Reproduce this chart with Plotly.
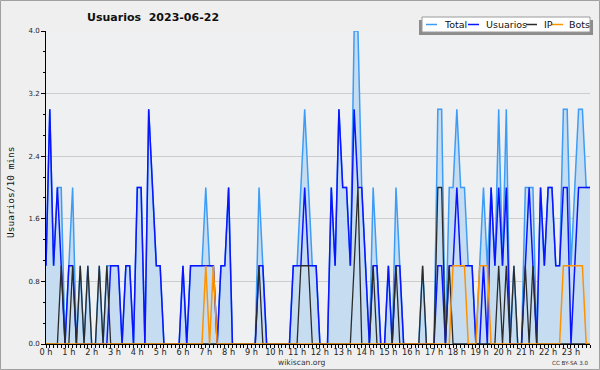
import plotly.graph_objects as go

# ---- data (10-minute slots, 144 per day) ----
hours = list(range(24))
hour_labels = [f"{h} h" for h in hours]
series_names = ["Total", "Usuarios", "IP", "Bots"]

total = [1,3,1,2,2,0,1,2,0,1, 0,1,0,0,1,0,1,1,1,1, 0,1,1,0,2,2,0,3,2,1,
         1,0,0,0,0,0,1,0,1,1, 1,1,2,1,1,0,1,1,2,0, 0,0,0,0,0,0,2,1,0,0,
         0,0,0,0,0,1,1,2,3,2, 1,1,0,0,0,2,1,3,2,2, 1,4,4,2,1,0,2,1,0,0,
         1,0,2,1,0,0,0,0,0,1, 0,0,0,3,3,0,2,2,3,2, 2,1,1,0,1,2,1,2,1,3,
         1,3,0,1,0,0,2,2,2,0, 2,1,2,2,1,1,3,3,1,2, 3,3,2,2]
usuarios = [1,3,1,2,1,0,1,1,0,0, 0,0,0,0,0,0,0,1,1,1, 0,1,1,0,2,2,0,3,2,1,
            1,0,0,0,0,0,1,0,1,1, 1,1,1,1,1,0,1,1,2,0, 0,0,0,0,0,0,1,1,0,0,
            0,0,0,0,0,1,1,1,2,1, 1,1,0,0,0,2,1,3,2,2, 1,3,2,2,1,0,1,1,0,0,
            1,0,1,1,0,0,0,0,0,0, 0,0,0,1,1,0,1,1,2,1, 1,1,1,0,0,1,0,2,1,2,
            1,2,0,0,0,0,1,2,1,0, 2,1,2,2,1,1,2,2,0,1, 2,2,2,2]
ip = [0,0,0,0,1,0,0,1,0,1, 0,1,0,0,1,0,1,0,0,0, 0,0,0,0,0,0,0,0,0,0,
      0,0,0,0,0,0,0,0,0,0, 0,0,0,0,0,0,0,0,0,0, 0,0,0,0,0,0,1,0,0,0,
      0,0,0,0,0,0,0,1,1,1, 0,0,0,0,0,0,0,0,0,0, 0,1,2,0,0,0,1,0,0,0,
      0,0,1,0,0,0,0,0,0,1, 0,0,0,2,2,0,1,0,0,0, 0,0,0,0,0,0,0,0,0,1,
      0,1,0,1,0,0,1,0,1,0, 0,0,0,0,0,0,0,0,0,0, 0,0,0,0]
bots = [0,0,0,0,0,0,0,0,0,0, 0,0,0,0,0,0,0,0,0,0, 0,0,0,0,0,0,0,0,0,0,
        0,0,0,0,0,0,0,0,0,0, 0,0,1,0,1,0,0,0,0,0, 0,0,0,0,0,0,0,0,0,0,
        0,0,0,0,0,0,0,0,0,0, 0,0,0,0,0,0,0,0,0,0, 0,0,0,0,0,0,0,0,0,0,
        0,0,0,0,0,0,0,0,0,0, 0,0,0,0,0,0,0,1,1,1, 1,0,0,0,1,1,1,0,0,0,
        0,0,0,0,0,0,0,0,0,0, 0,0,0,0,0,0,1,1,1,1, 1,1,0,0]
slots = list(range(len(total)))
y_ticks = [0.0, 0.8, 1.6, 2.4, 3.2, 4.0]

colors = ["#3d9cf5", "#0a14ff", "#2b2b2b", "#ff9200"]
FONT = "DejaVu Sans"

W, H = 600, 370
L, R, T, B = 46, 10, 31, 26
PW, PH = W - L - R, H - T - B


def px(x):
    return (x - L) / PW


def py(y):
    return (H - B - y) / PH


fig = go.Figure()
fig.add_trace(go.Scatter(x=slots, y=total, name=series_names[0], mode="lines",
                         line=dict(color=colors[0], width=1.5),
                         fill="tozeroy", fillcolor="#c6ddf1", showlegend=False))
fig.add_trace(go.Scatter(x=slots, y=usuarios, name=series_names[1], mode="lines",
                         line=dict(color=colors[1], width=1.5), showlegend=False))
fig.add_trace(go.Scatter(x=slots, y=ip, name=series_names[2], mode="lines",
                         line=dict(color=colors[2], width=1.3), showlegend=False))
fig.add_trace(go.Scatter(x=slots, y=bots, name=series_names[3], mode="lines",
                         line=dict(color=colors[3], width=1.5), showlegend=False))

shapes = []
annotations = []

# outer border
shapes.append(dict(type="rect", xref="paper", yref="paper",
                   x0=px(0.5), x1=px(W - 0.5), y0=py(H - 0.5), y1=py(0.5),
                   line=dict(color="#a0a0a0", width=1), fillcolor="rgba(0,0,0,0)",
                   layer="below"))

# custom legend: shadow, box, samples, labels
shapes.append(dict(type="rect", xref="paper", yref="paper",
                   x0=px(419), x1=px(593), y0=py(35), y1=py(20),
                   line=dict(width=0), fillcolor="#8c8c8c"))
shapes.append(dict(type="rect", xref="paper", yref="paper",
                   x0=px(422), x1=px(590), y0=py(32), y1=py(17),
                   line=dict(color="#9a9a9a", width=1), fillcolor="white"))
leg_line_x = [426, 468, 526, 552]
leg_text_x = [442, 484, 542, 567]
for name, c, lx, tx in zip(series_names, colors, leg_line_x, leg_text_x):
    shapes.append(dict(type="line", xref="paper", yref="paper",
                       x0=px(lx), x1=px(lx + 11), y0=py(24.5), y1=py(24.5),
                       line=dict(color=c, width=1.5)))
    annotations.append(dict(text=name, xref="paper", yref="paper",
                            x=px(tx), y=py(24.5), xanchor="left", yanchor="middle",
                            showarrow=False, font=dict(family=FONT, size=9.5, color="#111")))

# title
annotations.append(dict(text="<b>Usuarios  2023-06-22</b>", xref="paper", yref="paper",
                        x=px(85), y=py(17), xanchor="left", yanchor="middle",
                        showarrow=False, font=dict(family=FONT, size=11, color="#111")))
# y title
annotations.append(dict(text="Usuarios/10 mins", xref="paper", yref="paper",
                        x=px(10), y=py(192), xanchor="center", yanchor="middle",
                        textangle=-90, showarrow=False,
                        font=dict(family="DejaVu Sans Mono", size=9.5, color="#111")))
# footer
annotations.append(dict(text="wikiscan.org", xref="paper", yref="paper",
                        x=px(301), y=py(362.5), xanchor="center", yanchor="middle",
                        showarrow=False, font=dict(family=FONT, size=7.6, color="#333")))
annotations.append(dict(text="CC BY-SA 3.0", xref="paper", yref="paper",
                        x=px(570), y=py(363), xanchor="center", yanchor="middle",
                        showarrow=False, font=dict(family=FONT, size=5.6, color="#333")))

fig.update_layout(
    width=W, height=H,
    margin=dict(l=L, r=R, t=T, b=B),
    paper_bgcolor="#efefef",
    plot_bgcolor="#eff0f2",
    shapes=shapes,
    annotations=annotations,
    showlegend=False,
)
fig.update_xaxes(range=[0, len(slots) - 1],
                 tickvals=[h * 6 for h in hours], ticktext=hour_labels,
                 ticks="outside", ticklen=3, tickcolor="black", tickwidth=1,
                 minor=dict(dtick=1, tick0=0, ticks="outside", ticklen=3,
                            tickcolor="black", showgrid=False),
                 ticklabelstandoff=-3,
                 showgrid=False, zeroline=False,
                 showline=True, linecolor="black", linewidth=1,
                 tickfont=dict(family=FONT, size=8.2, color="#222"))
fig.update_yaxes(range=[0, 4],
                 tickvals=y_ticks, ticktext=[f"{v:.1f}" for v in y_ticks],
                 ticks="outside", ticklen=4, tickcolor="black", tickwidth=1,
                 minor=dict(dtick=0.8 / 3, tick0=0, ticks="outside", ticklen=2,
                            tickcolor="black", showgrid=False),
                 showgrid=True, gridcolor="#cccccc", gridwidth=1,
                 zeroline=False,
                 showline=True, linecolor="black", linewidth=1,
                 tickfont=dict(family=FONT, size=7, color="#222"))

fig.write_html("out.html",
               config={"displayModeBar": False},
               post_script="document.body.style.margin='0';document.body.style.padding='0';")
